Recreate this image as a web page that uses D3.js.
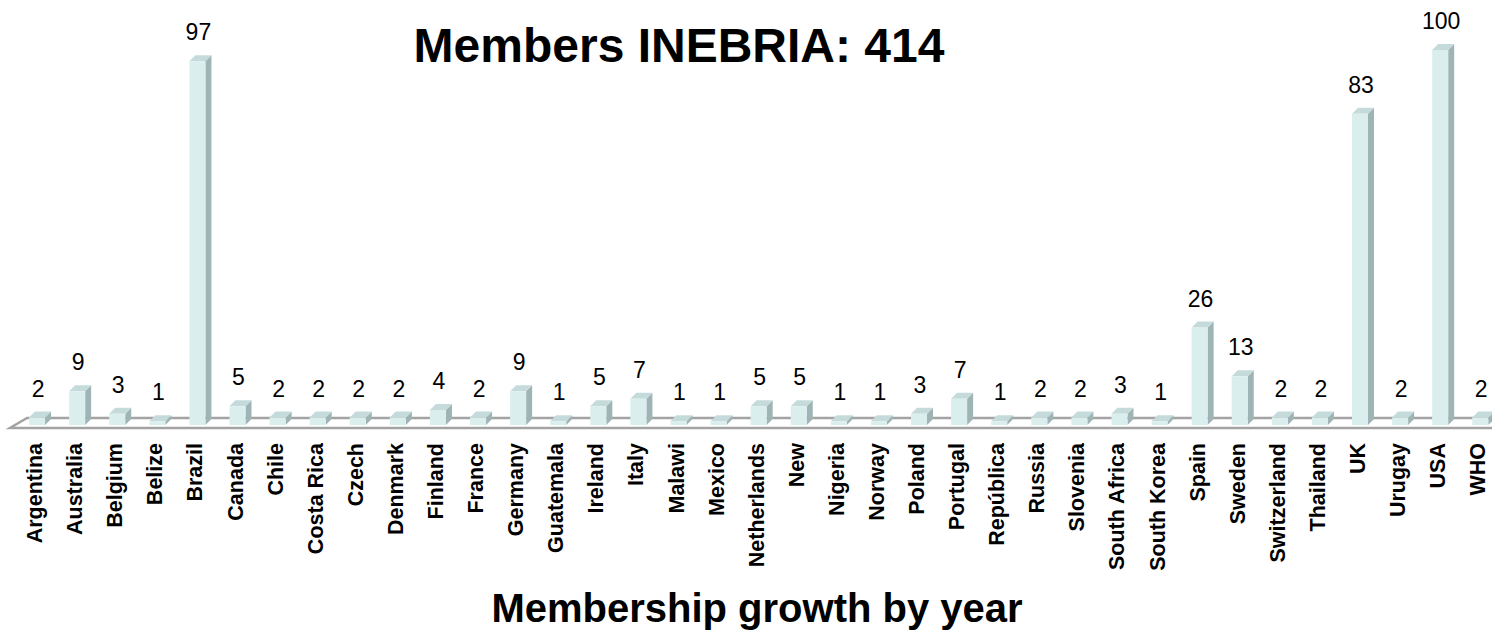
<!DOCTYPE html>
<html>
<head>
<meta charset="utf-8">
<script src="https://cdn.jsdelivr.net/npm/d3@7/dist/d3.min.js"></script>
<style>
  html, body { margin: 0; padding: 0; background: #fff; }
  svg { display: block; font-family: "Liberation Sans", Arial, sans-serif; }
</style>
</head>
<body>
<svg id="chart" width="1492" height="631"></svg>
<script>
const categories = ["Argentina","Australia","Belgium","Belize","Brazil","Canada","Chile","Costa Rica","Czech","Denmark","Finland","France","Germany","Guatemala","Ireland","Italy","Malawi","Mexico","Netherlands","New","Nigeria","Norway","Poland","Portugal","República","Russia","Slovenia","South Africa","South Korea","Spain","Sweden","Switzerland","Thailand","UK","Urugay","USA","WHO"];
const members = [2,9,3,1,97,5,2,2,2,2,4,2,9,1,5,7,1,1,5,5,1,1,3,7,1,2,2,3,1,26,13,2,2,83,2,100,2];
const titleText = "Members INEBRIA: 414";
const subtitleText = "Membership growth by year";

const svg = d3.select("#chart");

const x = d3.scaleBand().domain(categories).range([17, 1500.3]).paddingInner(0.6).paddingOuter(0.3);
const y = d3.scaleLinear().domain([0, 100]).range([425, 50]);

const depthX = 6, depthY = 6;
const colFront = "#dbeeee", colSide = "#9fb4b4", colTop = "#c5dbdb";

// Floor (3D plate)
const floorBack = 418, floorFront = 428;
svg.append("path")
  .attr("d", `M1500,${floorBack} L27,${floorBack} L10,${floorFront} L1500,${floorFront}`)
  .attr("fill", "#fff")
  .attr("stroke", "#a3a3a3")
  .attr("stroke-width", 2.5);

const data = categories.map((c, i) => ({ c, v: members[i] }));
const g = svg.append("g");
const bw = x.bandwidth();

const bars = g.selectAll("g.bar").data(data).join("g").attr("class", "bar");
bars.append("path")
  .attr("fill", colSide)
  .attr("d", d => {
    const x1 = x(d.c) + bw, yt = y(d.v), yb = y(0);
    return `M${x1},${yt} L${x1 + depthX},${yt - depthY} L${x1 + depthX},${yb - depthY} L${x1},${yb} Z`;
  });
bars.append("path")
  .attr("fill", colTop)
  .attr("d", d => {
    const x0 = x(d.c), x1 = x0 + bw, yt = y(d.v);
    return `M${x0},${yt} L${x0 + depthX},${yt - depthY} L${x1 + depthX},${yt - depthY} L${x1},${yt} Z`;
  });
bars.append("rect")
  .attr("fill", colFront)
  .attr("x", d => x(d.c))
  .attr("y", d => y(d.v))
  .attr("width", bw)
  .attr("height", d => y(0) - y(d.v));

g.selectAll("text.val").data(data).join("text")
  .attr("class", "val")
  .attr("x", d => x(d.c) + bw / 2 + 1)
  .attr("y", d => y(d.v) - 21)
  .attr("text-anchor", "middle")
  .attr("font-size", 23)
  .attr("fill", "#000")
  .text(d => d.v);

g.selectAll("text.cat").data(data).join("text")
  .attr("class", "cat")
  .attr("transform", d => `translate(${x(d.c) + bw / 2 - 2.5},443) rotate(-90)`)
  .attr("text-anchor", "end")
  .attr("dy", "0.35em")
  .attr("font-size", 21.5)
  .attr("font-weight", "bold")
  .attr("fill", "#000")
  .text(d => d.c);

svg.append("text")
  .attr("x", 679).attr("y", 62)
  .attr("text-anchor", "middle")
  .attr("font-size", 48)
  .attr("font-weight", "bold")
  .text(titleText);

svg.append("text")
  .attr("x", 757).attr("y", 622)
  .attr("text-anchor", "middle")
  .attr("font-size", 40)
  .attr("font-weight", "bold")
  .text(subtitleText);
</script>
</body>
</html>
